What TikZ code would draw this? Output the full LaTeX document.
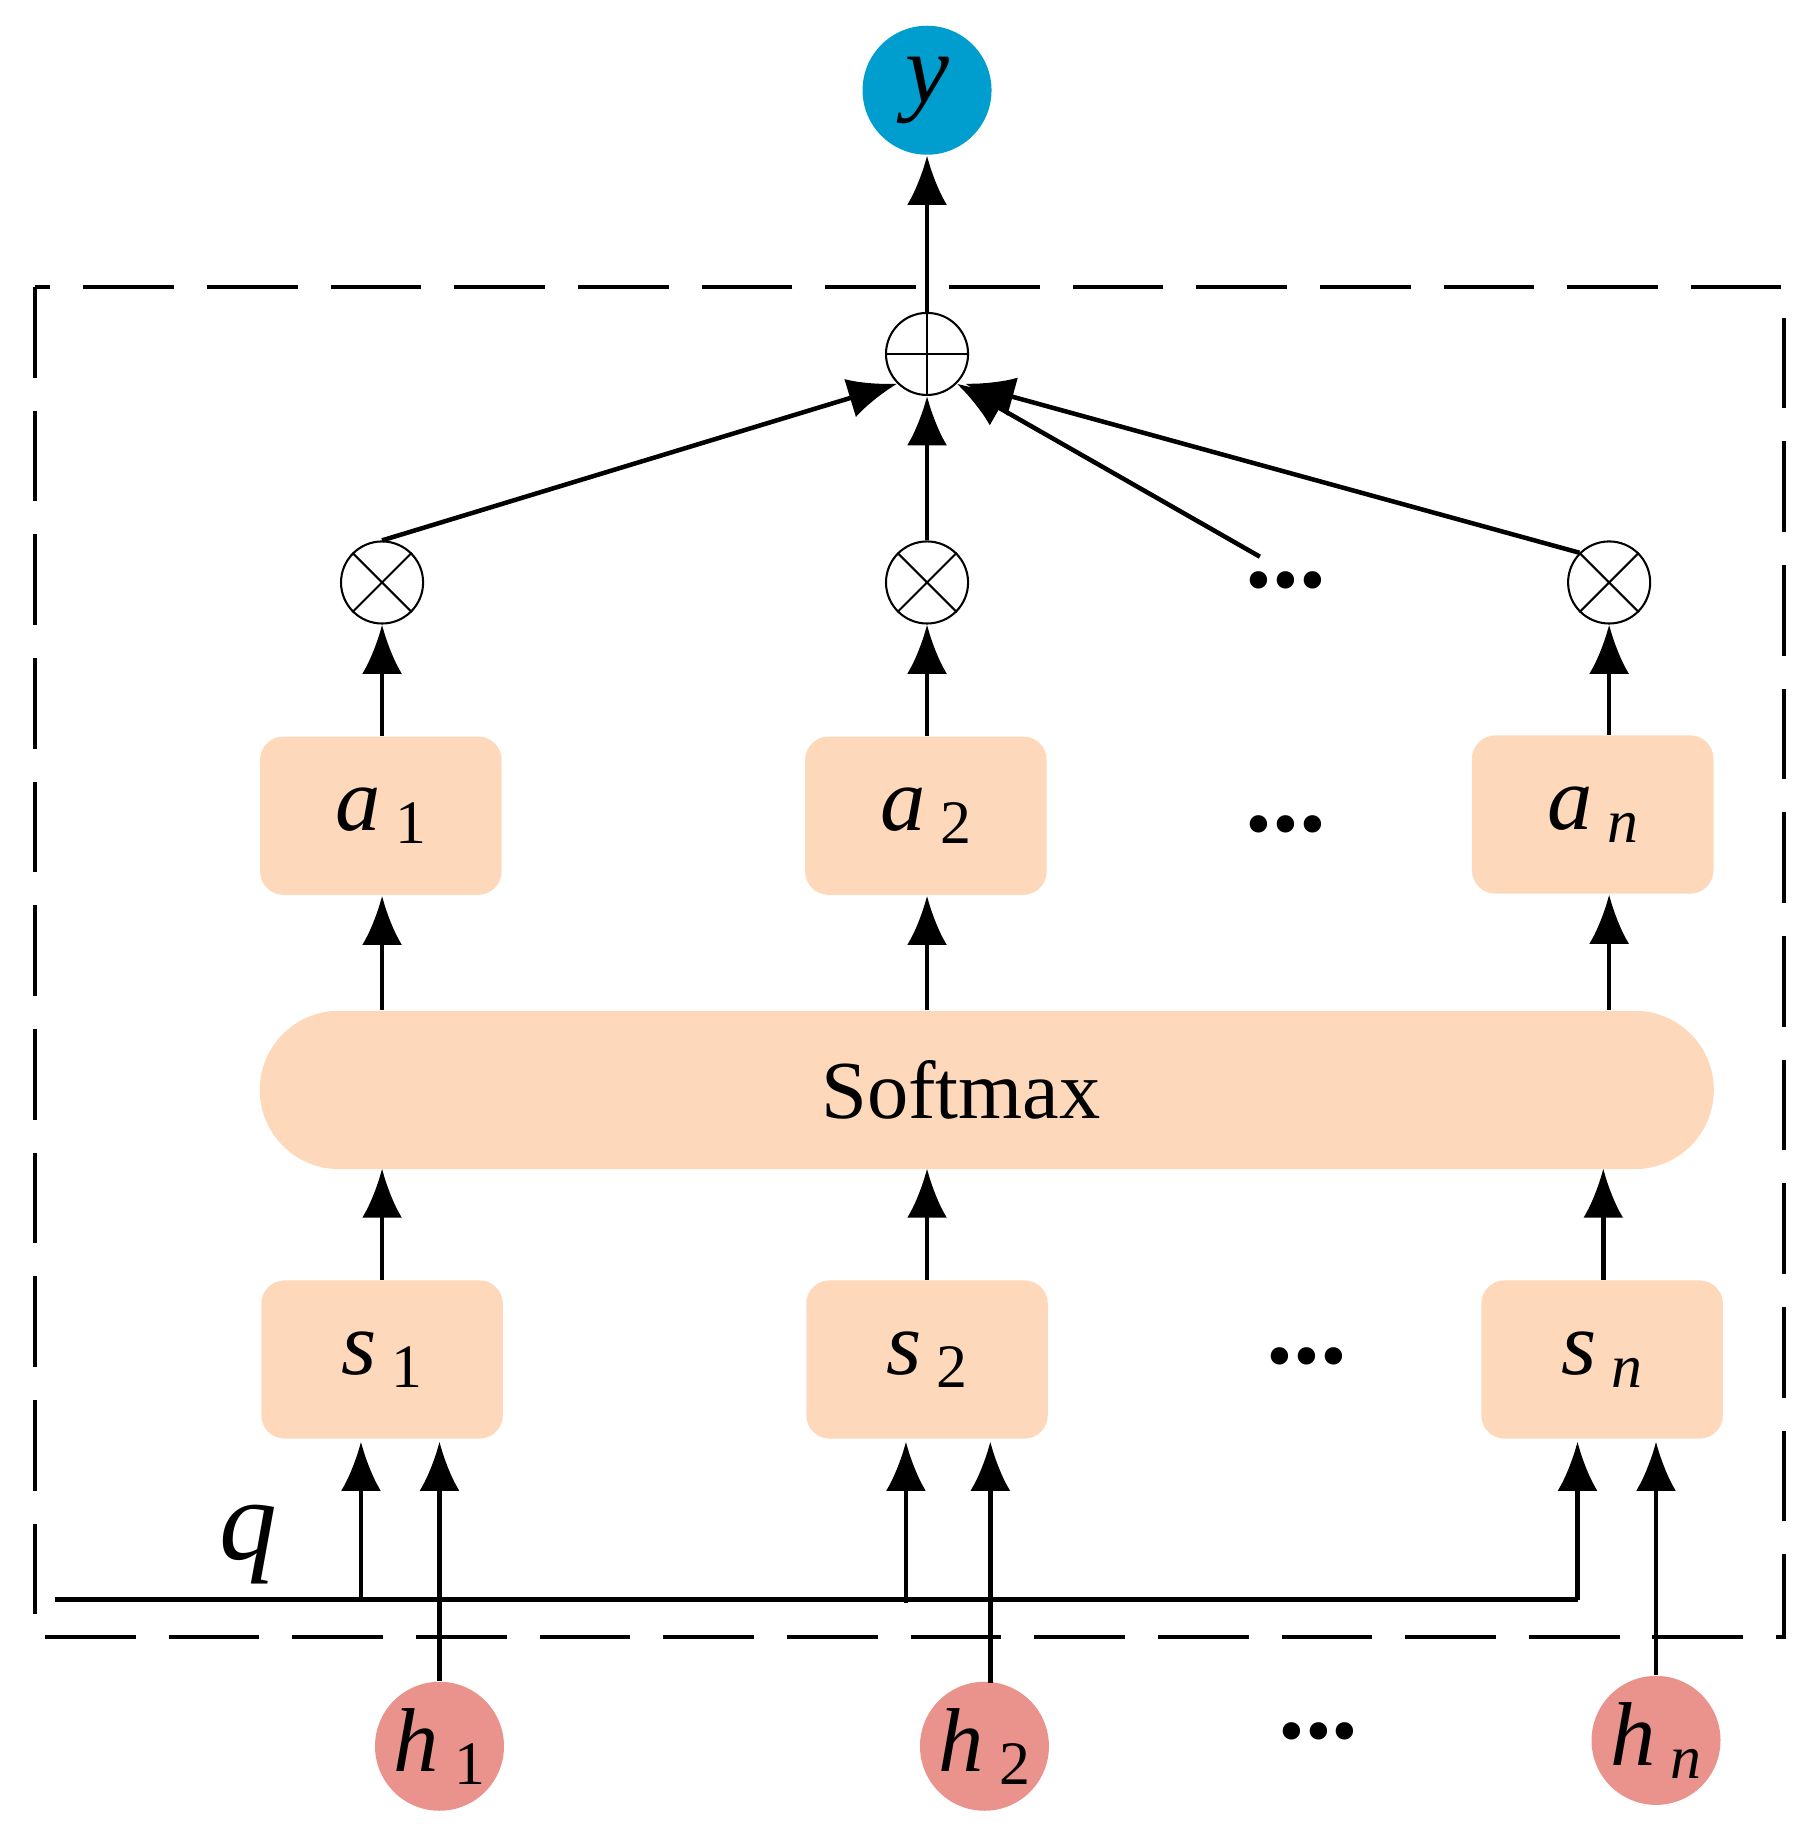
\documentclass[tikz,border=0pt]{standalone}
\usepackage{fontspec}
\setmainfont{Liberation Serif}
\usetikzlibrary{arrows.meta}
\definecolor{boxfill}{RGB}{253,216,186}
\definecolor{leaffill}{RGB}{234,146,140}
\definecolor{outfill}{RGB}{0,158,206}
\newcommand\vsub[2]{\textit{#1}\,{\fontsize{15pt}{15pt}\selectfont\raisebox{-0.45ex}{#2}}}
\tikzset{
  box/.style={fill=boxfill, rounded corners=0.2cm, minimum width=2.06cm, minimum height=1.35cm, font=\fontsize{22pt}{22pt}\selectfont},
  leaf/.style={circle, fill=leaffill, minimum size=1.1cm, inner sep=0pt, font=\fontsize{22pt}{22pt}\selectfont},
  op/.style={circle, draw, line width=0.5pt, minimum size=0.7cm, inner sep=0pt},
  arr/.style={line width=1.1pt, -{Latex[length=0.42cm,width=0.34cm]}},
  dots/.style={font=\fontsize{26pt}{26pt}\selectfont\bfseries}
}
\begin{document}
\begin{tikzpicture}[x=0.01cm,y=-0.01cm]
  \useasboundingbox (0,0) rectangle (1550,1570);
  \draw[dash pattern=on 22pt off 8pt, line width=0.9pt] (30,245) rectangle (1522,1397);
  % output
  \node[circle, fill=outfill, minimum size=1.1cm, inner sep=0pt, font=\fontsize{24pt}{24pt}\selectfont] (y) at (791,77) {\textit{y}};
  \node[op] (plus) at (791,302) {};
  \draw[line width=0.5pt] (plus.north) -- (plus.south) (plus.west) -- (plus.east);
  % products
  \foreach \n/\x in {m1/326, m2/791, mn/1373} {
    \node[op] (\n) at (\x,497) {};
    \draw[line width=0.5pt] (\n.north west) -- (\n.south east) (\n.north east) -- (\n.south west);
  }
  \node[dots] (md) at (1097,495) {...};
  \coordinate (mdc) at (1075,475);
  % weights
  \node[box] (a1) at (325,696) {\vsub{a}{1}};
  \node[box] (a2) at (790,696) {\vsub{a}{2}};
  \node[box] (an) at (1359,695) {\vsub{a}{\textit{n}}};
  \node[dots] (ad) at (1097,703) {...};
  % softmax
  \node[fill=boxfill, rounded corners=0.675cm, minimum width=12.4cm, minimum height=1.35cm] (sm) at (842,930) {};
  \node[font=\fontsize{20pt}{20pt}\selectfont] (smt) at (820,930) {Softmax};
  % scores
  \node[box] (s1) at (326,1160) {\vsub{s}{1}};
  \node[box] (s2) at (791,1160) {\vsub{s}{2}};
  \node[box] (sn) at (1367,1160) {\vsub{s}{\textit{n}}};
  \node[dots] (sd) at (1115,1157) {...};
  % inputs
  \node[leaf] (h1) at (375,1490) {\vsub{h}{1}};
  \node[leaf] (h2) at (840,1490) {\vsub{h}{2}};
  \node[leaf] (hn) at (1413,1485) {\vsub{h}{\textit{n}}};
  \node[dots] (hd) at (1125,1477) {...};
  % query line
  \coordinate (q0) at (47,1365);
  \coordinate (q1) at (1346,1365);
  \node[font=\fontsize{28pt}{28pt}\selectfont] (q) at (212,1318) {\textit{q}};
  \draw[line width=1.1pt] (q0) -- (q1);
  \draw[arr] (308,1365) -- (308,1230);
  \draw[arr] (773,1368) -- (773,1230);
  \draw[arr] (q1) -- (1346,1230);
  \draw[arr] (h1.north) -- (375,1230);
  \draw[arr] (845,1436) -- (845,1230);
  \draw[arr] (hn.north) -- (1413,1230);
  % scores to softmax to weights
  \foreach \x/\s in {326/s1, 791/s2, 1368/sn} \draw[arr] (\s.north -| \x,0) -- (\x,997);
  \foreach \x/\a in {326/a1, 791/a2, 1373/an} {
    \draw[arr] (\x,862) -- (\a.south -| \x,0);
  }
  \draw[arr] (a1.north -| m1) -- (m1.south);
  \draw[arr] (a2.north -| m2) -- (m2.south);
  \draw[arr] (an.north -| mn) -- (mn.south);
  % sum
  \draw[arr] (m1.north) -- (plus.south west);
  \draw[arr] (m2.north) -- (plus.south);
  \draw[arr] (mdc) -- (plus.south east);
  \draw[arr] (mn.north west) -- ([xshift=2pt]plus.south east);
  \draw[arr] (plus.north) -- (y.south);
\end{tikzpicture}
\end{document}
